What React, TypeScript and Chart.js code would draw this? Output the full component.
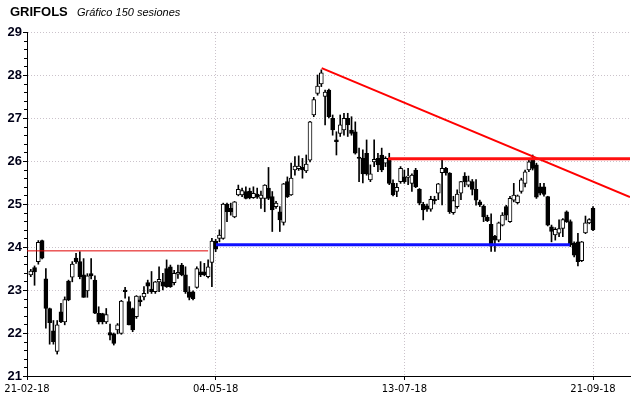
import React, { useEffect, useRef } from "react";
import { Chart, registerables } from "chart.js";
Chart.register(...registerables);

const tickPositions = [0, 50, 100, 150];
const tickLabels = ["21-02-18", "04-05-18", "13-07-18", "21-09-18"];

const opens = [
  23.35, 23.52, 23.66, 24.15, 23.26, 22.57, 22.05, 21.57, 22.49, 22.26,
  23.21, 23.30, 23.74, 23.66, 23.35, 22.98, 23.38, 23.23, 22.46, 22.45,
  22.26, 22.01, 21.98, 22.07, 21.99, 23.00, 22.73, 22.57, 22.38, 22.77,
  22.84, 23.17, 23.02, 22.96, 23.19, 23.19, 23.50, 23.54, 23.17, 23.37,
  23.58, 23.35, 22.96, 22.96, 23.06, 23.42, 23.42, 23.31, 23.64, 24.14,
  24.20, 24.20, 25.00, 24.90, 24.70, 25.21, 25.21, 25.29, 25.30, 25.15,
  25.23, 25.13, 25.13, 25.37, 25.17, 24.94, 24.82, 24.57, 25.52, 25.21,
  25.79, 25.82, 25.85, 25.77, 26.02, 27.07, 27.57, 27.79, 27.50, 27.65,
  26.99, 26.49, 26.64, 26.72, 26.99, 26.72, 26.68, 26.09, 26.06, 26.18,
  25.56, 25.98, 26.06, 26.14, 25.95, 26.06, 25.48, 25.29, 25.52, 25.63,
  25.62, 25.48, 25.79, 25.34, 24.99, 24.96, 24.88, 25.11, 25.25, 25.73,
  25.83, 25.72, 24.80, 24.94, 25.25, 25.65, 25.44, 25.52, 25.34, 25.05,
  24.95, 24.69, 24.53, 24.25, 24.16, 24.51, 24.94, 24.59, 25.09, 25.03,
  25.29, 25.48, 25.79, 26.02, 25.91, 25.40, 25.40, 25.17, 24.47, 24.28,
  24.32, 24.43, 24.82, 24.59, 24.09, 24.12, 23.68, 24.33, 24.56, 24.90,
];
const highs = [
  23.48, 23.56, 24.15, 24.16, 23.50, 22.58, 22.29, 22.29, 22.69, 22.84,
  23.23, 23.66, 23.85, 23.89, 23.73, 23.38, 23.73, 23.33, 22.61, 22.46,
  22.57, 22.21, 22.00, 22.22, 22.76, 23.06, 22.84, 22.58, 22.87, 22.86,
  23.08, 23.23, 23.43, 23.20, 23.54, 23.39, 23.70, 23.58, 23.46, 23.58,
  23.62, 23.54, 23.08, 22.98, 23.54, 23.66, 23.62, 23.70, 24.20, 24.18,
  24.40, 25.02, 25.02, 25.02, 25.06, 25.44, 25.37, 25.40, 25.37, 25.40,
  25.37, 25.30, 25.45, 25.85, 25.29, 25.06, 24.94, 25.48, 25.63, 25.95,
  26.10, 26.12, 26.06, 26.14, 26.92, 27.48, 28.00, 28.12, 27.65, 27.67,
  27.07, 26.68, 27.07, 27.11, 27.11, 27.03, 26.91, 26.30, 26.26, 26.49,
  25.91, 26.49, 26.18, 26.30, 26.10, 26.18, 25.56, 25.48, 25.87, 25.79,
  25.83, 25.70, 25.83, 25.36, 25.04, 25.00, 25.18, 25.18, 25.48, 26.02,
  25.85, 25.73, 25.18, 25.33, 25.53, 25.73, 25.65, 25.57, 25.57, 25.09,
  24.98, 24.74, 24.77, 24.27, 24.58, 24.80, 24.97, 25.18, 25.48, 25.21,
  25.60, 25.79, 26.06, 26.14, 25.95, 25.48, 25.48, 25.18, 24.51, 24.45,
  24.63, 24.66, 24.84, 24.63, 24.12, 24.32, 24.13, 24.72, 24.66, 24.94,
];
const lows = [
  23.31, 23.11, 23.60, 23.72, 22.11, 21.74, 21.74, 21.51, 22.24, 22.19,
  22.75, 23.19, 23.62, 23.26, 22.83, 22.83, 23.26, 22.45, 22.21, 22.21,
  22.22, 21.84, 21.72, 21.98, 21.97, 22.81, 22.19, 22.03, 22.34, 22.63,
  22.77, 22.92, 22.92, 22.92, 22.96, 23.00, 23.06, 23.06, 23.12, 23.27,
  23.33, 22.92, 22.77, 22.77, 23.04, 23.31, 23.33, 23.28, 23.08, 23.89,
  24.12, 24.18, 24.59, 24.74, 24.68, 25.19, 25.17, 25.12, 25.12, 25.13,
  25.13, 24.90, 24.82, 25.10, 24.36, 24.90, 24.36, 24.51, 25.15, 25.20,
  25.67, 25.78, 25.60, 25.73, 25.98, 27.03, 27.53, 27.73, 26.84, 27.00,
  26.60, 26.14, 26.57, 26.60, 26.57, 26.60, 26.16, 25.52, 25.49, 25.67,
  25.52, 25.87, 25.75, 25.75, 25.87, 25.45, 25.19, 25.17, 25.48, 25.48,
  25.45, 25.29, 25.38, 24.98, 24.63, 24.83, 24.83, 25.00, 25.10, 24.98,
  25.67, 24.78, 24.76, 24.90, 25.10, 25.40, 25.40, 25.21, 24.97, 24.94,
  24.59, 24.59, 23.90, 23.90, 24.12, 24.49, 24.63, 24.57, 25.05, 25.00,
  25.25, 25.40, 25.75, 25.79, 25.13, 25.21, 25.18, 24.49, 24.12, 24.16,
  24.24, 24.24, 24.57, 24.01, 23.77, 23.56, 23.66, 24.31, 24.54, 24.38,
];
const closes = [
  23.44, 23.42, 24.11, 23.74, 22.57, 22.24, 21.80, 22.19, 22.26, 22.78,
  22.77, 23.60, 23.66, 23.31, 22.83, 23.33, 23.33, 22.46, 22.26, 22.26,
  22.43, 21.95, 21.76, 22.19, 22.74, 22.96, 22.19, 22.07, 22.86, 22.73,
  22.92, 23.09, 22.96, 23.19, 23.25, 23.09, 23.08, 23.08, 23.39, 23.41,
  23.35, 22.96, 22.83, 22.80, 23.50, 23.35, 23.35, 23.54, 24.14, 23.95,
  24.28, 25.00, 24.82, 24.82, 25.05, 25.34, 25.31, 25.13, 25.14, 25.25,
  25.16, 25.21, 25.44, 25.13, 24.86, 25.02, 24.63, 25.47, 25.17, 25.60,
  25.88, 25.88, 25.79, 25.93, 26.91, 27.43, 27.74, 28.05, 27.60, 27.03,
  26.72, 26.45, 26.84, 26.99, 26.84, 26.64, 26.18, 26.06, 25.70, 25.70,
  25.70, 26.04, 25.91, 25.79, 26.06, 25.48, 25.21, 25.39, 25.83, 25.52,
  25.65, 25.67, 25.40, 25.02, 24.86, 24.88, 25.11, 25.08, 25.47, 25.83,
  25.72, 24.82, 25.08, 25.23, 25.52, 25.52, 25.54, 25.34, 25.09, 24.98,
  24.70, 24.61, 24.02, 24.16, 24.56, 24.74, 24.74, 25.13, 25.21, 25.19,
  25.56, 25.75, 25.98, 25.83, 25.16, 25.25, 25.22, 24.51, 24.36, 24.41,
  24.43, 24.64, 24.59, 24.05, 23.81, 23.66, 24.12, 24.56, 24.64, 24.40,
];

const thinRedLine = [{ x: 0, y: 23.91 }, { x: 48, y: 23.91 }];
const supportLine = [{ x: 50.1, y: 24.05 }, { x: 143.9, y: 24.05 }];
const resistanceLine = [{ x: 95.7, y: 26.05 }, { x: 159.8, y: 26.05 }];
const trendLine = [{ x: 78.1, y: 28.16 }, { x: 159.8, y: 25.16 }];

const titleText = "GRIFOLS";
const subtitleText = "Gráfico 150 sesiones";

const gridColor = "#cbc3cb";

const decorPlugin = {
  id: "decor",
  afterDraw(chart: any) {
    const ctx = chart.ctx;
    const y = chart.scales.y;
    const left = chart.chartArea.left;
    ctx.save();
    ctx.strokeStyle = "#000";
    ctx.lineWidth = 1;
    for (let v = 21; v < 29; v++) {
      for (let k = 1; k < 5; k++) {
        const py = Math.round(y.getPixelForValue(v + k * 0.2)) + 0.5;
        ctx.beginPath();
        ctx.moveTo(left - 3, py);
        ctx.lineTo(left, py);
        ctx.stroke();
      }
    }
    ctx.fillStyle = "#000";
    ctx.textBaseline = "alphabetic";
    ctx.font = "bold 13px 'Liberation Sans', Arial, sans-serif";
    ctx.fillText(titleText, 10, 16);
    ctx.font = "italic 11px 'Liberation Sans', Arial, sans-serif";
    ctx.fillText(subtitleText, 77, 16);
    ctx.restore();
  },
};

export default function App() {
  const ref = useRef<HTMLCanvasElement | null>(null);
  useEffect(() => {
    if (!ref.current) return;
    const idx = opens.map((_, k) => k + 1);
    const chart = new Chart(ref.current, {
      type: "bar",
      data: {
        datasets: [
          {
            type: "line",
            data: thinRedLine,
            borderColor: "#e00000",
            borderWidth: 1,
            pointRadius: 0,
            order: 1,
          } as any,
          {
            type: "line",
            data: supportLine,
            borderColor: "#1010ff",
            borderWidth: 3,
            pointRadius: 0,
            order: 1,
          } as any,
          {
            type: "line",
            data: resistanceLine,
            borderColor: "#ff1010",
            borderWidth: 3,
            pointRadius: 0,
            order: 1,
          } as any,
          {
            type: "line",
            data: trendLine,
            borderColor: "#ff0000",
            borderWidth: 2,
            pointRadius: 0,
            order: 1,
          } as any,
          {
            type: "bar",
            data: idx.map((x, k) => ({ x, y: [lows[k], highs[k]] })),
            backgroundColor: "#000",
            borderWidth: 0,
            barThickness: 1,
            grouped: false,
            order: 3,
          } as any,
          {
            type: "bar",
            data: idx.map((x, k) => ({ x, y: [opens[k], closes[k]] })),
            backgroundColor: idx.map((_, k) => (closes[k] >= opens[k] ? "#ffffff" : "#000000")),
            borderColor: "#000",
            borderWidth: 1,
            borderSkipped: false,
            barThickness: 4,
            grouped: false,
            order: 2,
          } as any,
        ],
      },
      options: {
        responsive: false,
        animation: false,
        layout: { padding: { top: 32, right: 10, left: 0, bottom: 0 } },
        plugins: { legend: { display: false }, tooltip: { enabled: false } },
        scales: {
          x: {
            type: "linear",
            min: 0,
            max: 159.8,
            offset: false,
            grid: {
              offset: false,
              color: gridColor,
              drawTicks: true,
              tickLength: 4,
              tickColor: "#000",
            },
            border: { display: true, color: "#000", width: 1, dash: [1, 2] },
            afterBuildTicks: (scale: any) => {
              scale.ticks = tickPositions.map((v) => ({ value: v }));
            },
            afterFit: (scale: any) => {
              scale.height = 22;
            },
            ticks: {
              autoSkip: false,
              maxRotation: 0,
              padding: 3,
              color: "#000",
              font: { family: "'DejaVu Sans', sans-serif", size: 10 },
              callback: (value: any) => {
                const i = tickPositions.indexOf(Number(value));
                return i >= 0 ? tickLabels[i] : "";
              },
            },
          } as any,
          y: {
            type: "linear",
            min: 21,
            max: 29,
            grid: {
              color: gridColor,
              drawTicks: true,
              tickLength: 4,
              tickColor: "#000",
            },
            border: { display: true, color: "#000", width: 1, dash: [1, 2] },
            afterFit: (scale: any) => {
              scale.width = 27;
            },
            ticks: {
              stepSize: 1,
              padding: 1,
              color: "#000018",
              font: { family: "'Liberation Sans', Arial, sans-serif", size: 13, weight: "bold" },
            },
          } as any,
        },
      },
      plugins: [decorPlugin],
    });
    return () => chart.destroy();
  }, []);
  return (
    <div style={{ position: "fixed", left: 0, top: 0, width: 640, height: 398, background: "#fff" }}>
      <canvas ref={ref} width={640} height={398} style={{ display: "block" }} />
    </div>
  );
}
